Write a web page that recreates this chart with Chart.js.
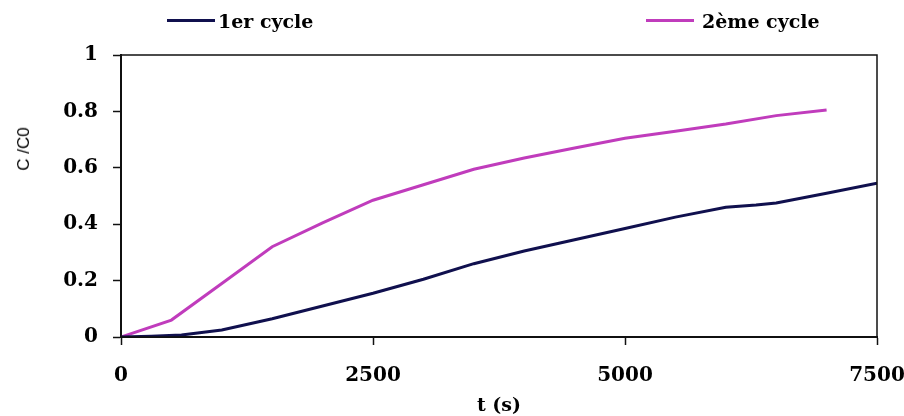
<!DOCTYPE html>
<html>
<head>
<meta charset="utf-8">
<script src="https://cdn.jsdelivr.net/npm/chart.js@4/dist/chart.umd.min.js"></script>
<style>
  html, body { margin: 0; padding: 0; background: #fff; }
  #wrap { position: relative; width: 904px; height: 416px; }
  #wrap canvas { position: absolute; left: 0; top: 0; }
  .leg { position: absolute; top: 12px; height: 19px; font: bold 19px "DejaVu Serif"; line-height: 19px; white-space: nowrap; color: #000; }
  .leg i { position: absolute; top: 7px; height: 3px; width: 48px; }
  .ytitle { position: absolute; left: 24px; top: 149px; font: 17px "Liberation Sans"; color: #000;
            transform: translate(-50%, -50%) rotate(-90deg); white-space: nowrap; }
</style>
</head>
<body>
<div id="wrap">
  <canvas id="c" width="904" height="416"></canvas>
  <div class="leg" style="left:218px"><i style="left:-51px;background:#10104e"></i>1er cycle</div>
  <div class="leg" style="left:702px"><i style="left:-56px;background:#c03cbc"></i>2ème cycle</div>
  <div class="ytitle">C /C0</div>
</div>
<script>
// 1er cycle
const t1 = [0, 300, 600, 1000, 1500, 2000, 2500, 3000, 3500, 4000, 4500, 5000, 5500, 6000, 6300, 6500, 7000, 7500];
const c1 = [0, 0.003, 0.007, 0.025, 0.065, 0.11, 0.155, 0.205, 0.26, 0.305, 0.345, 0.385, 0.425, 0.46, 0.468, 0.475, 0.51, 0.545];

// 2ème cycle
const t2 = [0, 500, 1000, 1500, 2000, 2500, 3000, 3500, 4000, 4500, 5000, 5500, 6000, 6500, 7000];
const c2 = [0, 0.06, 0.19, 0.32, 0.405, 0.485, 0.54, 0.595, 0.635, 0.67, 0.705, 0.73, 0.755, 0.785, 0.805];

const xTicks = [0, 2500, 5000, 7500];
const yTicks = [0, 0.2, 0.4, 0.6, 0.8, 1];

const pts = (xs, ys) => xs.map((x, i) => ({ x, y: ys[i] }));

// cadre noir autour de la zone du graphe
const frame = {
  id: "frame",
  afterDatasetsDraw(chart) {
    const { ctx, chartArea: a } = chart;
    ctx.save();
    ctx.strokeStyle = "#111";
    ctx.lineWidth = 1.5;
    ctx.strokeRect(a.left, a.top, a.right - a.left, a.bottom - a.top);
    ctx.restore();
  }
};

const tickFont = { family: "DejaVu Serif", weight: "bold", size: 20 };

new Chart(document.getElementById("c"), {
  type: "line",
  data: {
    datasets: [
      { label: "1er cycle", data: pts(t1, c1), borderColor: "#10104e", borderWidth: 3, pointRadius: 0, tension: 0 },
      { label: "2ème cycle", data: pts(t2, c2), borderColor: "#c03cbc", borderWidth: 3, pointRadius: 0, tension: 0 }
    ]
  },
  options: {
    responsive: false,
    animation: false,
    events: [],
    layout: { padding: { left: 0, right: 27, top: 55, bottom: 0 } },
    plugins: { legend: { display: false }, tooltip: { enabled: false } },
    scales: {
      x: {
        type: "linear", min: 0, max: 7500,
        afterBuildTicks: s => { s.ticks = xTicks.map(v => ({ value: v })); },
        afterFit: s => { s.height = 79; s.paddingLeft = 0; s.paddingRight = 0; },
        grid: { drawOnChartArea: false, drawTicks: true, tickLength: 8, color: "#111", tickWidth: 1.5 },
        border: { color: "#111", width: 2 },
        ticks: { color: "#000", font: tickFont, padding: 19, maxRotation: 0, callback: v => String(v) },
        title: { display: true, text: "t (s)", color: "#000",
                 font: { family: "DejaVu Serif", weight: "bold", size: 19, lineHeight: 1 },
                 padding: { top: 0, bottom: 0 } }
      },
      y: {
        min: 0, max: 1,
        afterBuildTicks: s => { s.ticks = yTicks.map(v => ({ value: v })); },
        afterFit: s => { s.width = 121; s.paddingTop = 0; s.paddingBottom = 0; },
        grid: { drawOnChartArea: false, drawTicks: true, tickLength: 8, color: "#111", tickWidth: 1.5 },
        border: { color: "#111", width: 2 },
        ticks: { color: "#000", font: tickFont, padding: 15, callback: v => String(v) }
      }
    }
  },
  plugins: [frame]
});
</script>
</body>
</html>
